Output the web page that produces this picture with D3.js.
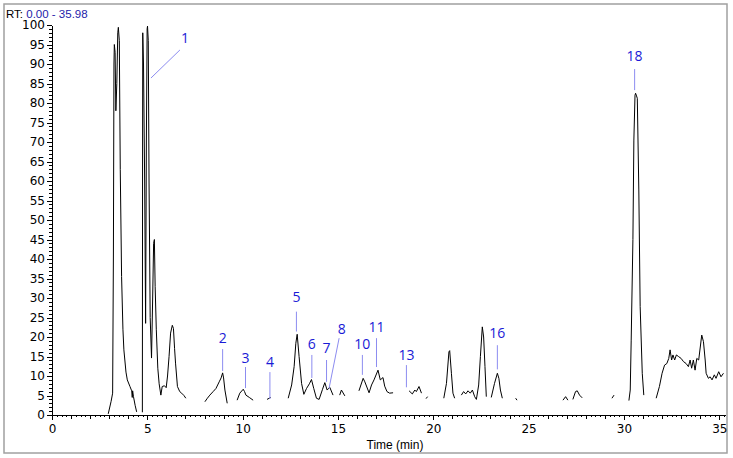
<!DOCTYPE html>
<html lang="en">
<head>
  <meta charset="UTF-8">
  <title>Chromatogram</title>
  <script src="https://d3js.org/d3.v7.min.js"></script>
  <style>
    html, body { margin: 0; padding: 0; background: #fff; }
    svg { display: block; }
    .axis path, .axis line { stroke: #000; shape-rendering: crispEdges; }
    .axis text { font-family: "DejaVu Sans", sans-serif; font-size: 12px; fill: #000; }
  </style>
</head>
<body>
  <div id="chart"></div>

  <script>
    // retention time (min) and relative abundance (%); null = trace not drawn
    const rtMin = [
      2.95, 3.10, 3.18, 3.22, 3.25, 3.27, 3.31, 3.35, 3.40, 3.45, 3.48, 3.53, 3.58, 3.65, 3.72, 3.77, 3.88, 3.95, 4.09, 4.18, 4.21, 4.23, 4.27, 4.36, 4.44, 4.60,
      4.74, 4.75, 4.76, 4.80, 4.86, 4.91, 4.95, 4.99, 5.01, 5.05, 5.09, 5.15, 5.22, 5.28, 5.33, 5.37, 5.41, 5.47, 5.55, 5.62, 5.71, 5.78, 5.90, 5.99, 6.06, 6.14, 6.22, 6.31, 6.37, 6.43, 6.48, 6.58, 6.70, 6.80, 6.92, 7.02, 7.50,
      8.02, 8.15, 8.28, 8.45, 8.60, 8.77, 8.87, 8.95, 9.00, 9.07, 9.19, 9.45,
      9.71, 9.85, 10.03, 10.10, 10.17, 10.35, 10.55, 10.90,
      11.28, 11.47, 12.00,
      12.39, 12.57, 12.70, 12.79, 12.86, 12.96, 13.09, 13.21, 13.35, 13.50, 13.61, 13.73, 13.87, 14.01, 14.19, 14.31, 14.43, 14.57, 14.74, 14.90,
      15.09, 15.18, 15.36, 15.70,
      16.10, 16.32, 16.41, 16.63, 16.76, 16.89, 17.10, 17.22, 17.36, 17.45, 17.57, 17.71, 17.89, 18.30,
      18.73, 18.90, 19.03, 19.11, 19.25, 19.38, 19.50,
      19.62, 19.70, 20.10,
      20.55, 20.69, 20.82, 20.86, 20.95, 21.03, 21.12, 21.30,
      21.47, 21.59, 21.70, 21.82, 21.94, 22.05, 22.17, 22.26, 22.38, 22.47, 22.57, 22.64, 22.71, 22.78, 22.90,
      23.04, 23.21, 23.36, 23.44, 23.52, 23.62, 24.00,
      24.32, 24.39, 25.00,
      26.80, 26.94, 27.06, 27.20,
      27.32, 27.46, 27.55, 27.67, 27.81, 28.50,
      29.37, 29.48, 29.90,
      30.26, 30.33, 30.38, 30.47, 30.52, 30.58, 30.61, 30.66, 30.70, 30.78, 30.85, 30.96, 31.04, 31.40,
      31.69, 31.86, 32.00, 32.13, 32.25, 32.35, 32.42, 32.50, 32.57, 32.66, 32.75, 32.86, 33.00, 33.12, 33.26, 33.38, 33.47, 33.55, 33.64, 33.73, 33.82, 33.92, 34.08, 34.17, 34.26, 34.31, 34.43, 34.52, 34.62, 34.74, 34.83, 34.97, 35.09, 35.22
    ];
    const relAbundance = [
      0.3, 3.5, 5.6, 40, 90, 95, 93, 78, 85, 98, 99.4, 96, 63, 35.5, 22, 16.7, 11, 9, 7.3, 6.2, 4.5, 6.2, 4.8, 2.5, 0.8, null,
      0.7, 60, 98, 90, 60, 23.5, 70, 99, 99.7, 96, 60, 25, 14.6, 30, 44, 45, 33, 22, 12, 8, 5.1, 7.3, 7.5, 7, 10, 15, 21, 23, 22.2, 17, 13.3, 7.3, 6, 5.6, 5, 4.3, null,
      3.4, 4.3, 5.1, 6, 6.8, 8.5, 9.5, 10.8, 9.5, 6.4, 3, null,
      3.8, 5.6, 6.6, 6, 5.1, 4.5, 3.8, null,
      4, 4.5, null,
      4.3, 7.7, 12.4, 18.4, 20.7, 15, 8.1, 5.3, 6.8, 8, 9.1, 6.8, 4.3, 4, 6.6, 8.3, 6.4, 7.1, 5.1, null,
      5.1, 6.4, 4.9, null,
      6.2, 9.4, 8.5, 5.7, 7.7, 9, 11.5, 9, 9.6, 7.4, 6, 5.6, 5.7, null,
      6.2, 5.4, 6.4, 6, 7.3, 5.6, null,
      4.2, 4.7, null,
      4.3, 8.1, 16.2, 16.5, 10.7, 5.6, 4.3, null,
      5.1, 6, 5.4, 6.2, 5.6, 6.4, 4.7, 4, 7.7, 15, 22.6, 20, 12.4, 4.7, null,
      4.5, 8.1, 10.7, 9.4, 6.4, 4.3, null,
      4.3, 3.8, null,
      3.8, 4.7, 3.8, null,
      4, 6, 6.2, 5.1, 4.4, null,
      4.3, 5.1, null,
      3.7, 6.4, 19.2, 45, 70.5, 82, 82.5, 81.8, 81.2, 57.7, 27.8, 10.7, 5.1, null,
      4.3, 7.3, 10.7, 12.8, 13.2, 14.5, 16.7, 14.1, 15.4, 14.1, 15.4, 15, 14.5, 13.7, 13.2, 12.4, 14.1, 12, 14.1, 11.5, 14.5, 14.1, 20.5, 18.8, 14.1, 10.7, 9.4, 9.8, 9, 10.3, 9.4, 11.1, 9.8, 10.7
    ];

    // peak annotations: label, label position (rt, abundance), leader line end points
    const peakNames = ['1', '2', '3', '4', '5', '6', '7', '8', '10', '11', '13', '16', '18'];
    const labelRt   = [6.97, 8.95, 10.15, 11.43, 12.82, 13.63, 14.40, 15.20, 16.28, 17.02, 18.59, 23.36, 30.56];
    const labelAb   = [95.4, 18.5, 13.4, 12.4, 29.0, 16.9, 15.9, 20.8, 16.9, 21.2, 14.1, 19.7, 90.8];
    const lineRt0   = [6.71, 8.95, 10.15, 11.43, 12.82, 13.63, 14.40, 15.06, 16.28, 17.02, 18.59, 23.36, 30.56];
    const lineAb0   = [93.6, 16.9, 12.3, 11.0, 26.5, 15.4, 14.1, 19.7, 15.4, 19.7, 12.8, 17.9, 88.7];
    const lineRt1   = [5.19, 8.95, 10.15, 11.43, 12.82, 13.63, 14.40, 14.53, 16.28, 17.02, 18.59, 23.36, 30.56];
    const lineAb1   = [86.4, 11.3, 6.9, 4.1, 21.4, 9.5, 8.5, 6.8, 10.3, 12.3, 7.1, 11.7, 83.3];

    const xMajor = d3.range(0, 36, 5);
    const yMajor = d3.range(0, 101, 5);

    const W = 733, H = 458;
    const svg = d3.select('#chart').append('svg')
      .attr('width', W).attr('height', H);

    // outer frame
    svg.append('rect')
      .attr('x', 4).attr('y', 4).attr('width', 723).attr('height', 449)
      .attr('fill', 'none').attr('stroke', '#a0a0a0').attr('stroke-width', 1.5);

    const x = d3.scaleLinear().domain([0, 35.3]).range([52, 725]);
    const y = d3.scaleLinear().domain([0, 100]).range([415, 25]);

    // x axis: minor 0.25, medium 1, labelled 5
    svg.append('g').attr('class', 'axis').attr('transform', 'translate(0,415)')
      .call(d3.axisBottom(x).tickValues(d3.range(0, 35.3, 0.25)).tickSize(2).tickFormat('').tickSizeOuter(0));
    svg.append('g').attr('class', 'axis').attr('transform', 'translate(0,415)')
      .call(d3.axisBottom(x).tickValues(d3.range(0, 35.3, 1)).tickSize(4).tickFormat('').tickSizeOuter(0))
      .select('.domain').remove();
    svg.append('g').attr('class', 'axis').attr('transform', 'translate(0,415)')
      .call(d3.axisBottom(x).tickValues(xMajor).tickSize(5).tickPadding(4).tickFormat(d3.format('d')).tickSizeOuter(0))
      .select('.domain').remove();

    // y axis: minor 1, labelled 5
    svg.append('g').attr('class', 'axis').attr('transform', 'translate(52,0)')
      .call(d3.axisLeft(y).tickValues(d3.range(0, 101, 1)).tickSize(3).tickFormat('').tickSizeOuter(0));
    svg.append('g').attr('class', 'axis').attr('transform', 'translate(52,0)')
      .call(d3.axisLeft(y).tickValues(yMajor).tickSize(5).tickPadding(2).tickFormat(d3.format('d')).tickSizeOuter(0))
      .select('.domain').remove();

    svg.append('text')
      .attr('x', 395).attr('y', 449)
      .attr('text-anchor', 'middle')
      .attr('font-family', '"Liberation Sans", Arial, sans-serif')
      .attr('font-size', 12)
      .text('Time (min)');

    const rtLabel = svg.append('text')
      .attr('x', 6).attr('y', 18)
      .attr('font-family', '"Liberation Sans", Arial, sans-serif')
      .attr('font-size', 11.5);
    rtLabel.append('tspan').attr('fill', '#000').text('RT: ');
    rtLabel.append('tspan').attr('fill', '#1c1caa').text('0.00 - 35.98');

    // trace
    const pts = rtMin.map((t, i) => ({ t, v: relAbundance[i] }));
    const line = d3.line()
      .defined(d => d.v != null)
      .x(d => x(d.t))
      .y(d => y(d.v));
    svg.append('path')
      .datum(pts)
      .attr('d', line)
      .attr('fill', 'none')
      .attr('stroke', '#000')
      .attr('stroke-width', 1)
      .attr('stroke-linejoin', 'round');

    // peak labels
    const ann = svg.append('g');
    peakNames.forEach((name, i) => {
      ann.append('line')
        .attr('x1', x(lineRt0[i])).attr('y1', y(lineAb0[i]))
        .attr('x2', x(lineRt1[i])).attr('y2', y(lineAb1[i]))
        .attr('stroke', '#8c8cf0').attr('stroke-width', 1);
      ann.append('text')
        .attr('x', x(labelRt[i])).attr('y', y(labelAb[i]))
        .attr('text-anchor', 'middle')
        .attr('font-family', '"Open Sans", "DejaVu Sans", sans-serif')
        .attr('font-size', 14)
        .attr('fill', '#1a1ad6')
        .text(name);
    });
  </script>
</body>
</html>
